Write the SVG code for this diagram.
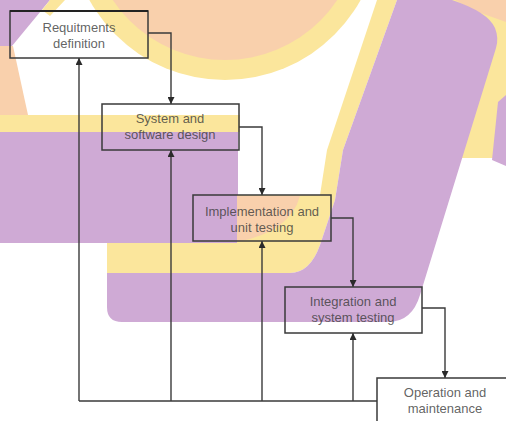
<svg xmlns="http://www.w3.org/2000/svg" width="506" height="421" viewBox="0 0 506 421">
<defs>
<style>
.pu{fill:#cfaad5}
.ye{fill:#fbe69c}
.pe{fill:#f9d0ac}
.box{fill:none;stroke:#3a3a3a;stroke-width:1.5}
.lbl{font-family:"Liberation Sans",Arial,sans-serif;font-size:13px;fill:#3a3a3a;fill-opacity:0.8;text-anchor:middle}
.con{fill:none;stroke:#3a3a3a;stroke-width:1.4}
</style>
<marker id="arr" viewBox="0 0 10 10" refX="10" refY="5" markerWidth="7" markerHeight="7" markerUnits="userSpaceOnUse" orient="auto">
<path d="M0,0 L10,5 L0,10 z" fill="#2a2a2a"/>
</marker>
</defs>
<g id="background">
<rect x="0" y="0" width="506" height="421" fill="#ffffff"/>
<circle class="ye" cx="225" cy="-75" r="155"/>
<circle class="pe" cx="225" cy="-75" r="135"/>
<polygon class="pu" points="0,0 50,0 12,46 0,46"/>
<polygon class="ye" points="50,0 65,0 50,16 42,10"/>
<polygon class="pe" points="0,46 13,46 28,115 0,115"/>
<rect class="ye" x="0" y="115" width="240" height="17"/>
<rect class="pu" x="0" y="132" width="238" height="111"/>
<polygon class="ye" points="450,0 506,0 506,158 462,158"/>
<polygon class="pe" points="455,0 506,0 506,22 478,12"/>
<polygon class="pu" points="506,95 498,102 492,160 506,166"/>
<path class="ye" d="M377 0 L397 0 L343 150 L335 200 L320 245 Q310 273 290 273 L107 273 L107 243 L237 243 L237 195 L320 195 L327 150 Z"/>
<path class="pe" d="M237 196 L300 196 Q290 232 237 242 Z"/>
<path class="pu" d="M397 0 L452 0 Q488 12 495 28 Q499 38 496 48 L420 295 Q412 322 388 322 L122 322 Q107 322 107 307 L107 273 L290 273 Q310 273 320 245 L335 200 L343 150 Z"/>
</g>
<g id="connectors">
<polyline class="con" points="148,33 171,33 171,104" marker-end="url(#arr)"/>
<polyline class="con" points="239,127 262,127 262,195" marker-end="url(#arr)"/>
<polyline class="con" points="331,218 353,218 353,287" marker-end="url(#arr)"/>
<polyline class="con" points="422,308 445,308 445,378" marker-end="url(#arr)"/>
<polyline class="con" points="377,401 79,401"/>
<line class="con" x1="79" y1="401" x2="79" y2="58" marker-end="url(#arr)"/>
<line class="con" x1="171" y1="401" x2="171" y2="150" marker-end="url(#arr)"/>
<line class="con" x1="262" y1="401" x2="262" y2="241" marker-end="url(#arr)"/>
<line class="con" x1="353" y1="401" x2="353" y2="333" marker-end="url(#arr)"/>
</g>
<g id="node-requirements">
<rect class="box" x="10" y="11" width="138" height="47"/>
<line x1="10" y1="11" x2="148" y2="11" stroke="#222" stroke-width="2"/>
<text class="lbl" x="79" y="32">Requitments</text>
<text class="lbl" x="79" y="48">definition</text>
</g>
<g id="node-design">
<rect class="box" x="102" y="104" width="137" height="46"/>
<text class="lbl" x="170" y="123">System and</text>
<text class="lbl" x="170" y="139">software design</text>
</g>
<g id="node-implementation">
<rect class="box" x="193" y="195" width="138" height="46"/>
<text class="lbl" x="262" y="216">Implementation and</text>
<text class="lbl" x="262" y="232">unit testing</text>
</g>
<g id="node-integration">
<rect class="box" x="285" y="287" width="137" height="46"/>
<text class="lbl" x="353" y="306">Integration and</text>
<text class="lbl" x="353" y="322">system testing</text>
</g>
<g id="node-operation">
<rect class="box" x="377" y="378" width="138" height="46"/>
<text class="lbl" x="445" y="397">Operation and</text>
<text class="lbl" x="445" y="413">maintenance</text>
</g>
</svg>
